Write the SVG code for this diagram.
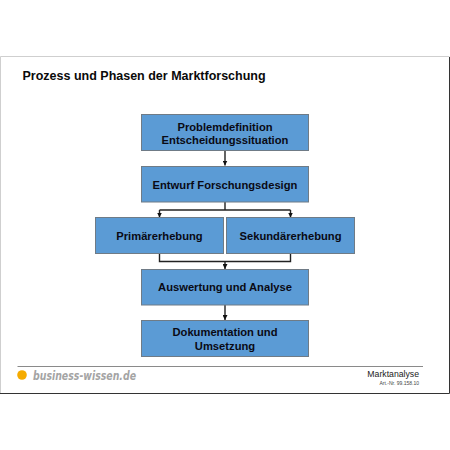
<svg xmlns="http://www.w3.org/2000/svg" width="450" height="450" viewBox="0 0 450 450">
<defs>
<marker id="arrow" markerUnits="userSpaceOnUse" markerWidth="6" markerHeight="5" refX="5" refY="2.5" orient="auto"><path d="M0,0L5,2.5L0,5z" fill="#111"/></marker>
</defs>
<style>
text{font-family:"Liberation Sans",Arial,sans-serif}
.box{fill:#5b9bd5;stroke:#6f7b86;stroke-width:1}
.lbl{font-size:11.2px;font-weight:bold;fill:#0a0a14;text-anchor:middle}
.con{fill:none;stroke:#222;stroke-width:1.4}
</style>
<rect width="450" height="450" fill="#fff"/>
<path d="M0.5,393V56.500H449.500" fill="none" stroke="#cfcfcf" stroke-width="1"/>
<path d="M0,393.500H449.500V57" fill="none" stroke="#333" stroke-width="1"/>
<text x="22.500" y="80" font-size="12.500" font-weight="bold" fill="#0a0a0a">Prozess und Phasen der Marktforschung</text>
<g id="connectors">
<path class="con" d="M225,151V165.500" marker-end="url(#arrow)"/>
<path class="con" d="M225,202V210"/>
<path class="con" d="M159.500,210H290.500"/>
<path class="con" d="M159.500,210V217.500" marker-end="url(#arrow)"/>
<path class="con" d="M290.500,210V217.500" marker-end="url(#arrow)"/>
<path class="con" d="M159.500,253V261.500H290.500V253"/>
<path class="con" d="M225,261.500V269" marker-end="url(#arrow)"/>
<path class="con" d="M225,305V320" marker-end="url(#arrow)"/>
</g>
<g id="node-problem"><rect class="box" x="141.500" y="114.500" width="167" height="36"/><text class="lbl" x="225" y="130.500">Problemdefinition</text><text class="lbl" x="225" y="144">Entscheidungssituation</text></g>
<g id="node-entwurf"><rect class="box" x="141.500" y="166.500" width="167" height="35.500"/><text class="lbl" x="225" y="188.500">Entwurf Forschungsdesign</text></g>
<g id="node-primaer"><rect class="box" x="95.500" y="217.500" width="128" height="36"/><text class="lbl" x="159.500" y="240">Primärerhebung</text></g>
<g id="node-sekundaer"><rect class="box" x="226.500" y="217.500" width="128" height="36"/><text class="lbl" x="290.500" y="240">Sekundärerhebung</text></g>
<g id="node-auswertung"><rect class="box" x="141.500" y="269.500" width="167" height="35.500"/><text class="lbl" x="225" y="291">Auswertung und Analyse</text></g>
<g id="node-doku"><rect class="box" x="141.500" y="320.500" width="167" height="36"/><text class="lbl" x="225" y="336">Dokumentation und</text><text class="lbl" x="225" y="350">Umsetzung</text></g>
<path d="M17.500,366.500H423" stroke="#8a8a8a" stroke-width="1"/>
<circle cx="22" cy="375" r="4.800" fill="#f5ab00"/>
<text x="33" y="380" style="font-family:'DejaVu Sans',sans-serif" font-size="11.500" font-style="italic" font-weight="bold" fill="#a4a4a4" textLength="103" lengthAdjust="spacingAndGlyphs">business-wissen.de</text>
<text x="419" y="377" font-size="8.700" text-anchor="end" fill="#222">Marktanalyse</text>
<text x="419" y="384.500" font-size="5" text-anchor="end" fill="#444">Art.-Nr. 99.158.10</text>
</svg>
